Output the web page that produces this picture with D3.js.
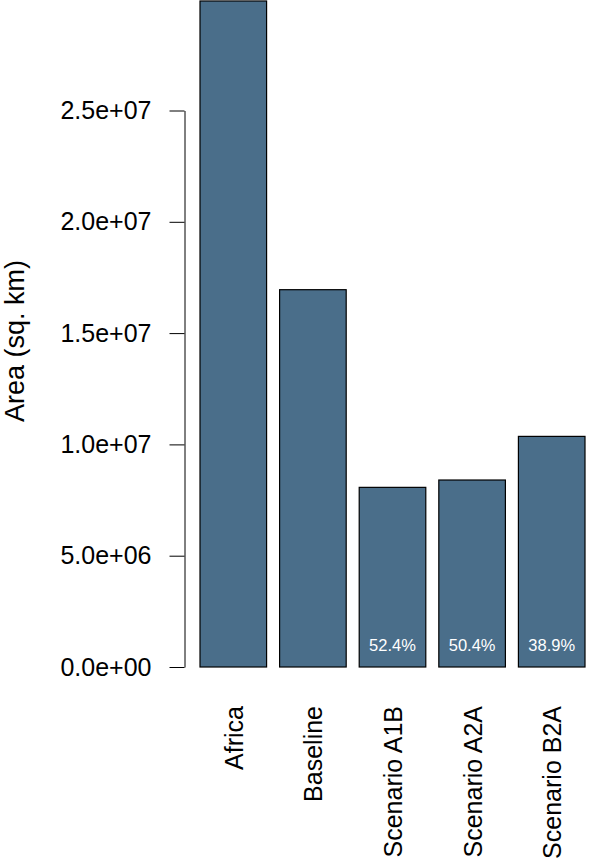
<!DOCTYPE html>
<html lang="en">
<head>
    <meta charset="UTF-8">
    <title>Area by scenario</title>
    <style>
        body { margin: 0; background: #fff; }
        svg { display: block; font-family: "Liberation Sans", Arial, Helvetica, sans-serif; }
        .tick text { font-size: 25px; fill: #000; }
        .tick line, .domain { stroke: #000; stroke-width: 1; }
    </style>
</head>
<body>
    <div id="chart"></div>

    <script src="https://d3js.org/d3.v7.min.js"></script>
    <script>
        // Data
        const categories = ["Africa", "Baseline", "Scenario A1B", "Scenario A2A", "Scenario B2A"];
        const areas = [29.92e6, 16.95e6, 8.07e6, 8.40e6, 10.36e6];
        const pctLabels = ["", "", "52.4%", "50.4%", "38.9%"];
        const yTicks = [0, 5e6, 1e7, 1.5e7, 2e7, 2.5e7];

        const width = 600;
        const height = 865;

        const svg = d3.select("#chart")
            .append("svg")
            .attr("width", width)
            .attr("height", height);

        // y scale: 0 sits at 667, 2.5e+07 at 110.5
        const y = d3.scaleLinear()
            .domain([0, 2.5e7])
            .range([667, 110.5]);

        // x scale: bars about 66.5 px wide on a 79.5 px step
        const x = d3.scaleBand()
            .domain(categories)
            .range([200, 585])
            .paddingInner(0.1635)
            .paddingOuter(0);

        const barColor = "#4a6e8a";

        // bars
        svg.selectAll("rect.bar")
            .data(areas)
            .join("rect")
            .attr("class", "bar")
            .attr("x", (d, i) => x(categories[i]))
            .attr("y", d => y(d))
            .attr("width", x.bandwidth())
            .attr("height", d => y(0) - y(d))
            .attr("fill", barColor)
            .attr("stroke", "#000")
            .attr("stroke-width", 1.2);

        // percentage labels inside the bars
        svg.selectAll("text.pct")
            .data(pctLabels)
            .join("text")
            .attr("class", "pct")
            .attr("x", (d, i) => x(categories[i]) + x.bandwidth() / 2)
            .attr("y", 651)
            .attr("text-anchor", "middle")
            .attr("font-size", 16.5)
            .attr("fill", "#fff")
            .text(d => d);

        // y axis (R style, line only spans the ticks)
        const yAxis = d3.axisLeft(y)
            .tickValues(yTicks)
            .tickSize(15)
            .tickSizeOuter(0)
            .tickPadding(18)
            .tickFormat(d => d3.format(".1e")(d).replace(/e([+-])(\d)$/, "e$10$2"));

        svg.append("g")
            .attr("transform", "translate(184.5,0)")
            .call(yAxis);

        // y axis title
        svg.append("text")
            .attr("transform", "translate(24,341) rotate(-90)")
            .attr("text-anchor", "middle")
            .attr("font-size", 27)
            .text("Area (sq. km)");

        // rotated category labels
        svg.selectAll("text.cat")
            .data(categories)
            .join("text")
            .attr("class", "cat")
            .attr("transform", d => `translate(${x(d) + x.bandwidth() / 2 + 9.5},706) rotate(-90)`)
            .attr("text-anchor", "end")
            .attr("font-size", 25)
            .text(d => d);
    </script>
</body>
</html>
